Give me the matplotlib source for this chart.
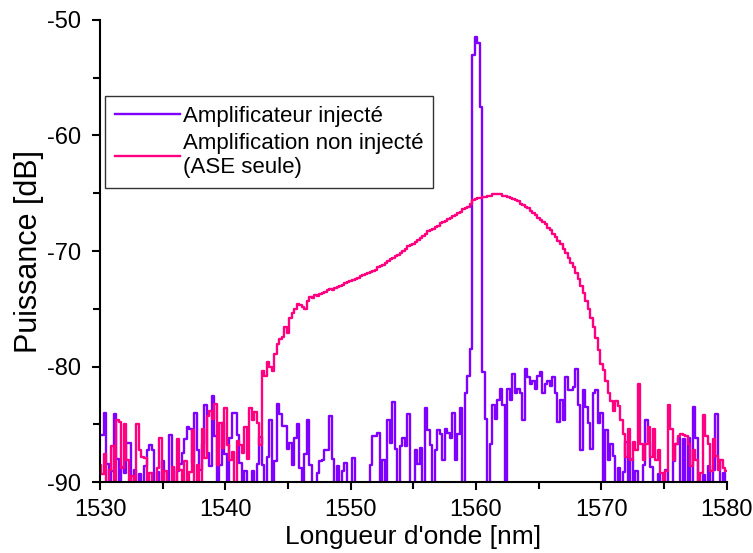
import numpy as np
import matplotlib
matplotlib.use("Agg")
import matplotlib.pyplot as plt
from matplotlib.ticker import MultipleLocator

plt.rcParams['font.family'] = ['Liberation Sans', 'DejaVu Sans']
plt.rcParams['axes.unicode_minus'] = False

# wavelength grid of the spectrum analyser trace (nm), 0.2 nm step
wl = np.arange(251) * 0.2 + 1530.0

F = -92.0  # below the -90 dB display floor

# injected amplifier (dB), 10 points per row = 2 nm
injecte = [
    -85.9, -85.9, -84.0, -88.4, F, -89.0, -84.1, -88.0, F, -88.7,      # 1530
    -89.2, -86.6, -86.6, F, -88.9, F, -89.3, F, -88.6, -87.2,          # 1532
    -86.8, -87.2, F, -89.1, F, -88.2, F, F, -85.9, -88.8,              # 1534
    F, -89.0, -88.4, -87.5, -86.3, -85.2, -85.4, -88.3, -84.0, -87.2,  # 1536
    -88.9, -86.7, -83.3, -87.5, -88.6, -82.5, -86.0, F, -88.5, -84.9,  # 1538
    -87.6, F, -86.2, -84.0, -84.0, -85.9, -88.3, F, -89.0, F,          # 1540
    F, -89.0, F, -88.4, -86.1, -88.5, F, -87.8, -84.6, F,              # 1542
    -88.2, -83.2, -84.1, -85.1, -85.1, -87.1, -86.6, -88.5, -86.2, -85.0,  # 1544
    -88.8, F, -87.6, -84.6, -88.5, F, F, -89.2, -88.2, -88.1,          # 1546
    -87.2, -87.2, -84.3, -88.0, F, -88.6, F, -89.0, -88.3, F,          # 1548
    F, -87.9, F, F, F, F, F, F, -88.5, -86.0,                          # 1550
    -86.0, -85.7, F, -88.1, F, -84.6, -86.6, -83.1, -87.1, F,          # 1552
    -86.9, -86.2, -86.9, -84.1, F, F, -87.2, -88.4, -87.0, F,          # 1554
    -83.6, -85.5, -86.8, F, -87.2, -85.5, -85.8, -88.1, -85.4, -85.7,  # 1556
    -86.2, -84.0, -88.1, -85.8, -83.6, F, -82.3, -80.8, -78.5, -53.0,  # 1558
    -51.5, -52.0, -57.5, -80.5, -84.5, F, -86.7, -83.3, -84.5, -82.9,  # 1560
    -81.9, -83.3, F, -81.9, -82.9, -80.6, -82.3, -81.9, -82.3, -84.6,  # 1562
    -80.2, -80.9, -81.5, -81.2, -81.9, -80.8, -80.5, -82.3, -81.5, -81.2,  # 1564
    -81.7, -80.9, -82.3, -84.8, -82.9, -84.6, -80.9, -82.0, -82.0, -81.8,  # 1566
    -80.2, -83.3, -87.2, -82.0, -83.5, -84.9, -87.1, -82.3, -82.0, -84.9,  # 1568
    -84.0, F, -85.5, -88.1, -86.7, -87.7, F, -88.8, F, -89.1,          # 1570
    -86.5, F, -88.0, F, -89.0, F, F, -88.5, -84.6, -86.5,              # 1572
    -88.7, F, F, -89.3, F, F, -88.9, F, F, -88.2,                      # 1574
    -86.7, -86.2, F, -86.3, F, -86.2, F, -83.5, -86.2, F,              # 1576
    F, -89.4, F, -88.6, F, -88.9, -84.1, -88.1, F, -89.2,              # 1578
    F,                                                                 # 1580
]

# amplifier without injection (ASE only), same grid
ase = [
    -88.5, -89.3, -87.6, F, -88.9, -86.9, F, -84.6, -84.8, -88.8,      # 1530
    -85.0, -88.1, F, -89.5, F, -85.0, -87.2, -87.8, -87.9, F,          # 1532
    -89.2, F, F, -88.8, -86.2, F, -89.0, F, F, -88.7,                  # 1534
    F, -86.3, -88.9, F, -88.2, F, -89.1, -85.5, F, -88.5,              # 1536
    F, -85.4, -87.9, -84.3, -83.8, -84.5, -83.2, -88.5, -84.9, -87.0,  # 1538
    -83.6, -86.8, -88.1, -87.4, F, -86.4, -86.8, -87.5, -85.2, -88.0,  # 1540
    -83.6, -84.6, -83.9, -84.9, -86.8, -80.4, -80.8, -79.6, -80.0, -80.4,  # 1542
    -78.9, -78.0, -77.6, -77.4, -76.6, -77.1, -75.8, -75.4, -75.0, -74.6,  # 1544
    -74.7, -74.8, -75.0, -74.3, -74.0, -74.1, -73.8, -73.9, -73.7, -73.6,  # 1546
    -73.5, -73.4, -73.3, -73.4, -73.2, -73.1, -73.0, -72.9, -72.8, -72.7,  # 1548
    -72.6, -72.5, -72.4, -72.3, -72.2, -72.1, -72.0, -71.9, -71.8, -71.7,  # 1550
    -71.6, -71.4, -71.3, -71.2, -71.0, -70.9, -70.7, -70.6, -70.4, -70.3,  # 1552
    -70.2, -70.0, -69.8, -69.6, -69.5, -69.4, -69.2, -69.0, -68.9, -68.7,  # 1554
    -68.5, -68.3, -68.2, -68.1, -67.9, -67.8, -67.6, -67.5, -67.4, -67.2,  # 1556
    -67.1, -67.0, -66.9, -66.7, -66.6, -66.4, -66.3, -66.2, -65.9, -65.6,  # 1558
    -65.5, -65.4, -65.4, -65.3, -65.3, -65.2, -65.2, -65.1, -65.1, -65.1,  # 1560
    -65.1, -65.2, -65.2, -65.3, -65.4, -65.5, -65.6, -65.7, -65.9, -66.0,  # 1562
    -66.2, -66.3, -66.5, -66.7, -66.9, -67.1, -67.3, -67.5, -67.7, -68.0,  # 1564
    -68.2, -68.5, -68.8, -69.1, -69.4, -69.8, -70.2, -70.6, -71.0, -71.4,  # 1566
    -71.9, -72.4, -73.0, -73.6, -74.3, -75.0, -75.8, -76.6, -77.5, -78.6,  # 1568
    -79.8, -80.3, -81.2, -82.3, -83.0, -83.8, -83.0, -83.4, -84.6, -85.8,  # 1570
    -87.8, -85.4, -88.1, -86.5, -87.2, -81.5, -86.7, -88.1, -86.7, -85.2,  # 1572
    -87.8, -85.4, -88.1, -87.2, -89.2, F, -89.0, -83.3, -85.4, -88.1,  # 1574
    -86.7, -86.0, -85.8, -85.9, -86.0, -86.7, -88.6, -87.2, -88.1, F,  # 1576
    -89.2, -84.2, -86.0, -86.7, -89.0, -86.3, -87.7, -88.9, -88.1, -88.8,  # 1578
    -89.0,                                                             # 1580
]

fig = plt.figure(figsize=(7.53, 5.53), dpi=100)
ax = fig.add_axes([0.133, 0.128, 0.832, 0.836])

ax.plot(wl, injecte, color='#8000FF', lw=1.7, drawstyle='steps-mid',
        label='Amplificateur injecté')
ax.plot(wl, ase, color='#FF0080', lw=1.7, drawstyle='steps-mid',
        label='Amplification non injecté\n(ASE seule)')

ax.set_xlim(1530, 1580)
ax.set_ylim(-90, -50)
ax.xaxis.set_major_locator(MultipleLocator(10))
ax.xaxis.set_minor_locator(MultipleLocator(5))
ax.yaxis.set_major_locator(MultipleLocator(10))
ax.yaxis.set_minor_locator(MultipleLocator(5))

for side in ('top', 'right'):
    ax.spines[side].set_visible(False)
for side in ('left', 'bottom'):
    ax.spines[side].set_linewidth(1.5)

ax.tick_params(which='major', direction='out', length=6, width=1.5,
               labelsize=17)
ax.tick_params(axis='x', which='major', pad=6)
ax.tick_params(axis='y', which='major', pad=8)
ax.tick_params(which='minor', direction='out', length=5, width=1.5)

ax.set_xlabel("Longueur d'onde [nm]", fontsize=19, labelpad=3)
ax.set_ylabel('Puissance [dB]', fontsize=22, labelpad=2)

leg = ax.legend(loc='upper left', bbox_to_anchor=(0.008, 0.835), fontsize=16,
                frameon=True, fancybox=False, handlelength=2.9,
                handletextpad=0.15, borderpad=0.45, labelspacing=0.25,
                borderaxespad=0.0)
leg.get_frame().set_edgecolor('black')
leg.get_frame().set_linewidth(1.0)

fig.savefig('out.png', dpi=100)
